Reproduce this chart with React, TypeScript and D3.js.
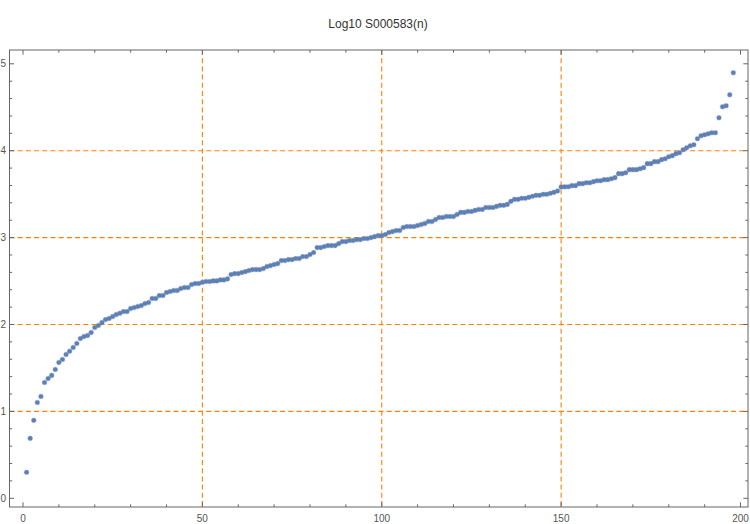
import React from "react";
import * as d3 from "d3";

const title = "Log10 S000583(n)";
const values1: number[] = [
  0.299, 0.69, 0.897, 1.103, 1.172, 1.333, 1.379, 1.414, 1.483, 1.563,
  1.598, 1.655, 1.693, 1.736, 1.782, 1.839, 1.862, 1.874, 1.908, 1.966,
  1.989, 2.023, 2.057, 2.069, 2.092, 2.115, 2.13, 2.149, 2.149, 2.184,
  2.195, 2.207, 2.218, 2.241, 2.253, 2.299, 2.299, 2.333, 2.333, 2.368,
  2.379, 2.391, 2.391, 2.414, 2.425, 2.425, 2.46, 2.471, 2.471,
];
const values2: number[] = [
  2.487, 2.494, 2.494, 2.502, 2.502, 2.513, 2.513, 2.525, 2.575, 2.586,
  2.586, 2.598, 2.609, 2.621, 2.632, 2.632, 2.632, 2.644, 2.667, 2.678,
  2.69, 2.701, 2.736, 2.736, 2.747, 2.747, 2.759, 2.759, 2.782, 2.782,
  2.805, 2.828, 2.885, 2.885, 2.897, 2.908, 2.908, 2.908, 2.931, 2.954,
  2.954, 2.966, 2.966, 2.977, 2.977, 2.989, 2.989, 3.0, 3.011, 3.023,
  3.023,
];
const values3: number[] = [
  3.035, 3.058, 3.069, 3.081, 3.081, 3.116, 3.127, 3.127, 3.127, 3.139,
  3.151, 3.162, 3.185, 3.185, 3.208, 3.232, 3.232, 3.243, 3.243, 3.243,
  3.266, 3.29, 3.29, 3.301, 3.301, 3.313, 3.324, 3.324, 3.347, 3.347,
  3.347, 3.359, 3.371, 3.371, 3.382, 3.417, 3.44, 3.44, 3.452, 3.452,
  3.463, 3.475, 3.486, 3.486, 3.498, 3.498, 3.51, 3.521, 3.536,
];
const values4: number[] = [
  3.582, 3.584, 3.586, 3.598, 3.598, 3.621, 3.621, 3.632, 3.632, 3.644,
  3.655, 3.655, 3.667, 3.667, 3.678, 3.69, 3.736, 3.736, 3.747, 3.782,
  3.782, 3.782, 3.793, 3.805, 3.851, 3.851, 3.874, 3.874, 3.897, 3.908,
  3.931, 3.943, 3.966, 3.977, 4.011, 4.034, 4.057, 4.069, 4.138, 4.172,
  4.184, 4.195, 4.207, 4.207, 4.379, 4.506, 4.517, 4.644, 4.897,
];
const values = [...values1, ...values2, ...values3, ...values4];

const xTicks = [0, 50, 100, 150, 200];
const yTicks = [0, 1, 2, 3, 4, 5];
const xGrid = [50, 100, 150];
const yGrid = [1, 2, 3, 4];

export default function App() {
  const W = 750, H = 524;
  const left = 9.5, right = 748, top = 50, bottom = 507;
  const x = d3.scaleLinear().domain([0, 200]).range([23, 740.5]);
  const y = d3.scaleLinear().domain([0, 5]).range([498.3, 63.8]);
  const frame = "#666";
  const orange = "#FF8000";
  const xMinor = d3.range(-0, 201, 10).filter((v) => v % 50 !== 0);
  const yMinor = d3.range(0, 51, 2).map((v) => v / 10).filter((v) => Math.abs(v - Math.round(v)) > 1e-6);
  const pts = values.map((v, i) => ({ n: i + 1, v }));
  return (
    <svg width={W} height={H} style={{ position: "absolute", left: 0, top: 0 }} fontFamily="'Liberation Sans', Arial, sans-serif">
      <rect width={W} height={H} fill="#fff" />
      <text x={378} y={28} textAnchor="middle" fontSize={12} fill="#333">{title}</text>
      {xGrid.map((g) => (
        <line key={"xg" + g} x1={x(g)} x2={x(g)} y1={top} y2={bottom} stroke={orange} strokeWidth={1.1} strokeDasharray="5,3.2" />
      ))}
      {yGrid.map((g) => (
        <line key={"yg" + g} x1={left} x2={right} y1={y(g)} y2={y(g)} stroke={orange} strokeWidth={1.1} strokeDasharray="5,3.2" />
      ))}
      <rect x={left} y={top} width={right - left} height={bottom - top} fill="none" stroke={frame} strokeWidth={1} />
      {xTicks.map((t) => (
        <g key={"xt" + t}>
          <line x1={x(t)} x2={x(t)} y1={bottom} y2={bottom - 4.7} stroke={frame} />
          <line x1={x(t)} x2={x(t)} y1={top} y2={top + 4.7} stroke={frame} />
          <text x={x(t)} y={522} textAnchor="middle" fontSize={10} fill="#555">{t}</text>
        </g>
      ))}
      {xMinor.map((t) => (
        <g key={"xm" + t}>
          <line x1={x(t)} x2={x(t)} y1={bottom} y2={bottom - 2.7} stroke={frame} />
          <line x1={x(t)} x2={x(t)} y1={top} y2={top + 2.7} stroke={frame} />
        </g>
      ))}
      {yTicks.map((t) => (
        <g key={"yt" + t}>
          <line x1={left} x2={left + 4.7} y1={y(t)} y2={y(t)} stroke={frame} />
          <line x1={right} x2={right - 4.7} y1={y(t)} y2={y(t)} stroke={frame} />
          <text x={6} y={y(t) + 3.5} textAnchor="end" fontSize={10} fill="#555">{t}</text>
        </g>
      ))}
      {yMinor.map((t) => (
        <g key={"ym" + t}>
          <line x1={left} x2={left + 2.7} y1={y(t)} y2={y(t)} stroke={frame} />
          <line x1={right} x2={right - 2.7} y1={y(t)} y2={y(t)} stroke={frame} />
        </g>
      ))}
      {pts.map((p) => (
        <circle key={p.n} cx={x(p.n)} cy={y(p.v)} r={2.3} fill="#5E81B5" stroke="#5E81B5" strokeOpacity={0.25} strokeWidth={1.2} />
      ))}
    </svg>
  );
}
